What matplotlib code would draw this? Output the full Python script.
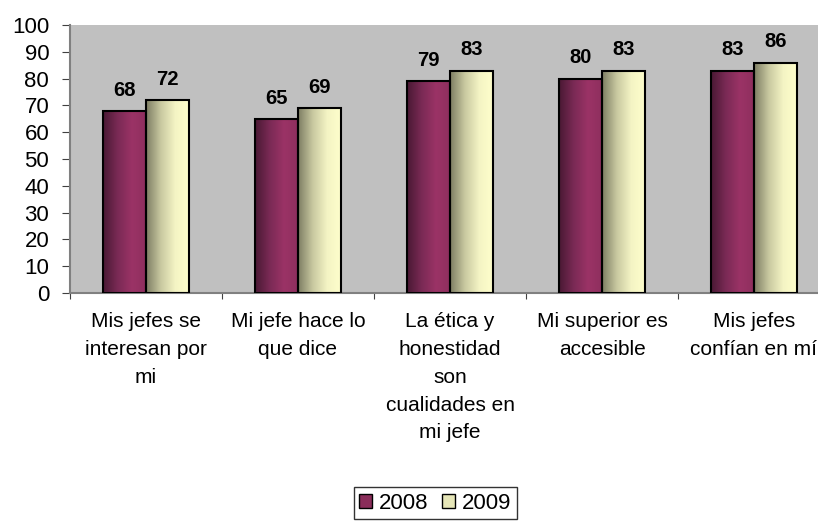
import matplotlib
matplotlib.use("Agg")
import matplotlib.pyplot as plt
from matplotlib.colors import LinearSegmentedColormap
from matplotlib.patches import Patch
import numpy as np

plt.rcParams['font.family'] = ['Liberation Sans', 'DejaVu Sans']

categories = ["Mis jefes se\ninteresan por\nmi",
              "Mi jefe hace lo\nque dice",
              "La ética y\nhonestidad\nson\ncualidades en\nmi jefe",
              "Mi superior es\naccesible",
              "Mis jefes\nconfían en mí"]
years = ["2008", "2009"]
v2008 = [68, 65, 79, 80, 83]
v2009 = [72, 69, 83, 83, 86]

grad2008 = LinearSegmentedColormap.from_list("g08", ["#4a1934", "#7a2a55", "#9b3366", "#8e2f5e"])
grad2009 = LinearSegmentedColormap.from_list("g09", ["#7e7e64", "#c8c8a0", "#f4f4c4", "#ffffcc"])

fig = plt.figure(figsize=(8.18, 5.25), dpi=100)
ax = fig.add_axes([70/818, 232/525, 760/818, 268/525])
ax.set_facecolor("#c0c0c0")

x = np.arange(len(categories)) + 0.5
w = 0.286
grad = np.linspace(0, 1, 64).reshape(1, -1)

for vals, off, cmap in [(v2008, -w/2, grad2008), (v2009, w/2, grad2009)]:
    bars = ax.bar(x + off, vals, w, facecolor="none", edgecolor="black", linewidth=1.5, zorder=3)
    for b, v in zip(bars, vals):
        x0, y0 = b.get_x(), b.get_y()
        im = ax.imshow(grad, cmap=cmap, aspect="auto", extent=[x0, x0 + b.get_width(), y0, y0 + v],
                       zorder=2)
        im.set_clip_path(b)
        ax.annotate(str(v), (x0 + b.get_width()/2, v), xytext=(0, 8), textcoords="offset points",
                    ha="center", va="bottom", fontsize=14.5, fontweight="bold")

ax.set_xlim(0, 5)
ax.set_ylim(0, 100)
ax.set_yticks(range(0, 101, 10))
ax.set_xticks(range(0, 6))
ax.set_xticklabels([])
ax.set_xticks(x, minor=True)
ax.set_xticklabels(categories, minor=True, fontsize=15, linespacing=1.58, va="top")
ax.tick_params(axis="x", which="minor", length=0, pad=14)
ax.tick_params(axis="x", which="major", length=4, color="#404040", direction="out")
ax.tick_params(axis="y", length=6, color="#404040", labelsize=16, pad=9)

for s in ["top", "right"]:
    ax.spines[s].set_visible(False)
ax.spines["left"].set_color("#808080")
ax.spines["left"].set_linewidth(1.5)
ax.spines["bottom"].set_color("#808080")
ax.spines["bottom"].set_linewidth(1.5)

handles = [Patch(facecolor="#8a2d5a", edgecolor="black", label="2008"),
           Patch(facecolor="#e6e6b8", edgecolor="black", label="2009")]
leg = fig.legend(handles=handles, loc="lower center", bbox_to_anchor=(0.532, -0.01), ncol=2,
                 fontsize=16, frameon=True, fancybox=False, edgecolor="black",
                 handlelength=0.6, handleheight=0.6, handletextpad=0.3, columnspacing=0.6,
                 borderpad=0.25)
leg.get_frame().set_linewidth(1.0)

fig.savefig("out.png", dpi=100)
